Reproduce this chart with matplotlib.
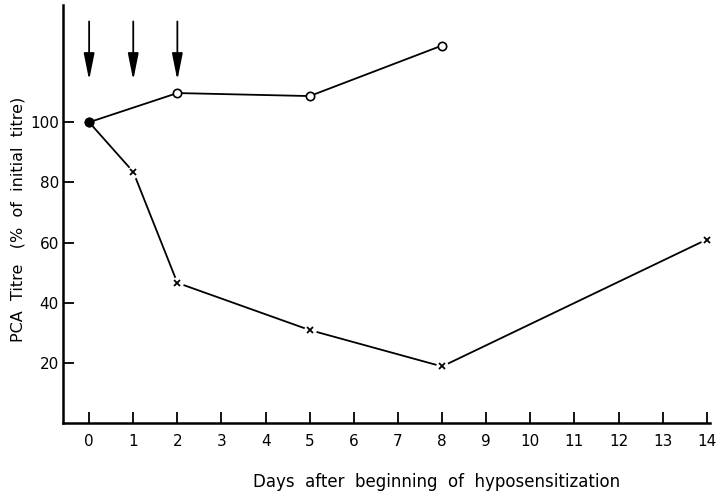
import matplotlib.pyplot as plt

days_circle = [0, 2, 5, 8]
titre_circle = [100, 109.7, 108.7, 125.5]

days_cross = [0, 1, 2, 5, 8, 14]
titre_cross = [100, 83.5, 46.6, 30.9, 18.8, 61]

arrow_days = [0, 1, 2]
x_ticks = list(range(0, 15))
y_ticks = [20, 40, 60, 80, 100]

fig = plt.figure(figsize=(7.17, 4.93), dpi=100)
ax = fig.add_axes([0.088, 0.142, 0.902, 0.848])

# line with x markers (gap around each marker)
ax.plot(days_cross, titre_cross, color='black', lw=1.3, zorder=2)
ax.plot(days_cross[1:], titre_cross[1:], 'o', ms=9, mfc='white', mec='none', zorder=3)
ax.plot(days_cross[1:], titre_cross[1:], 'x', ms=5, mew=1.3, color='black', zorder=4)

# line with open circles
ax.plot(days_circle, titre_circle, color='black', lw=1.3, zorder=2)
ax.plot(days_circle, titre_circle, 'o', ms=6, mfc='white', mec='black', mew=1.2, zorder=5)
ax.plot([0], [100], 'o', ms=6, color='black', zorder=6)

for d in arrow_days:
    ax.annotate('', xy=(d, 114), xytext=(d, 133.5),
                arrowprops=dict(arrowstyle='-|>,head_length=0.9,head_width=0.18',
                                color='black', lw=1.3,
                                mutation_scale=18, shrinkA=0, shrinkB=0))

ax.set_xlim(-0.59, 14.07)
ax.set_ylim(0, 139)
ax.set_xticks(x_ticks)
ax.set_yticks(y_ticks)
ax.tick_params(axis='x', direction='in', length=8, width=1.3, labelsize=11, pad=8)
ax.tick_params(axis='y', direction='in', length=8, width=1.3, labelsize=11, pad=3)
for s in ['top', 'right']:
    ax.spines[s].set_visible(False)
for s in ['left', 'bottom']:
    ax.spines[s].set_linewidth(1.8)

ax.set_xlabel('Days  after  beginning  of  hyposensitization', fontsize=12, va='center')
ax.xaxis.set_label_coords(0.578, -0.142)
ax.set_ylabel('PCA  Titre   (%  of  initial  titre)', fontsize=11.5, va='center')
ax.yaxis.set_label_coords(-0.07, 0.486)

fig.savefig('out.png', dpi=100)
